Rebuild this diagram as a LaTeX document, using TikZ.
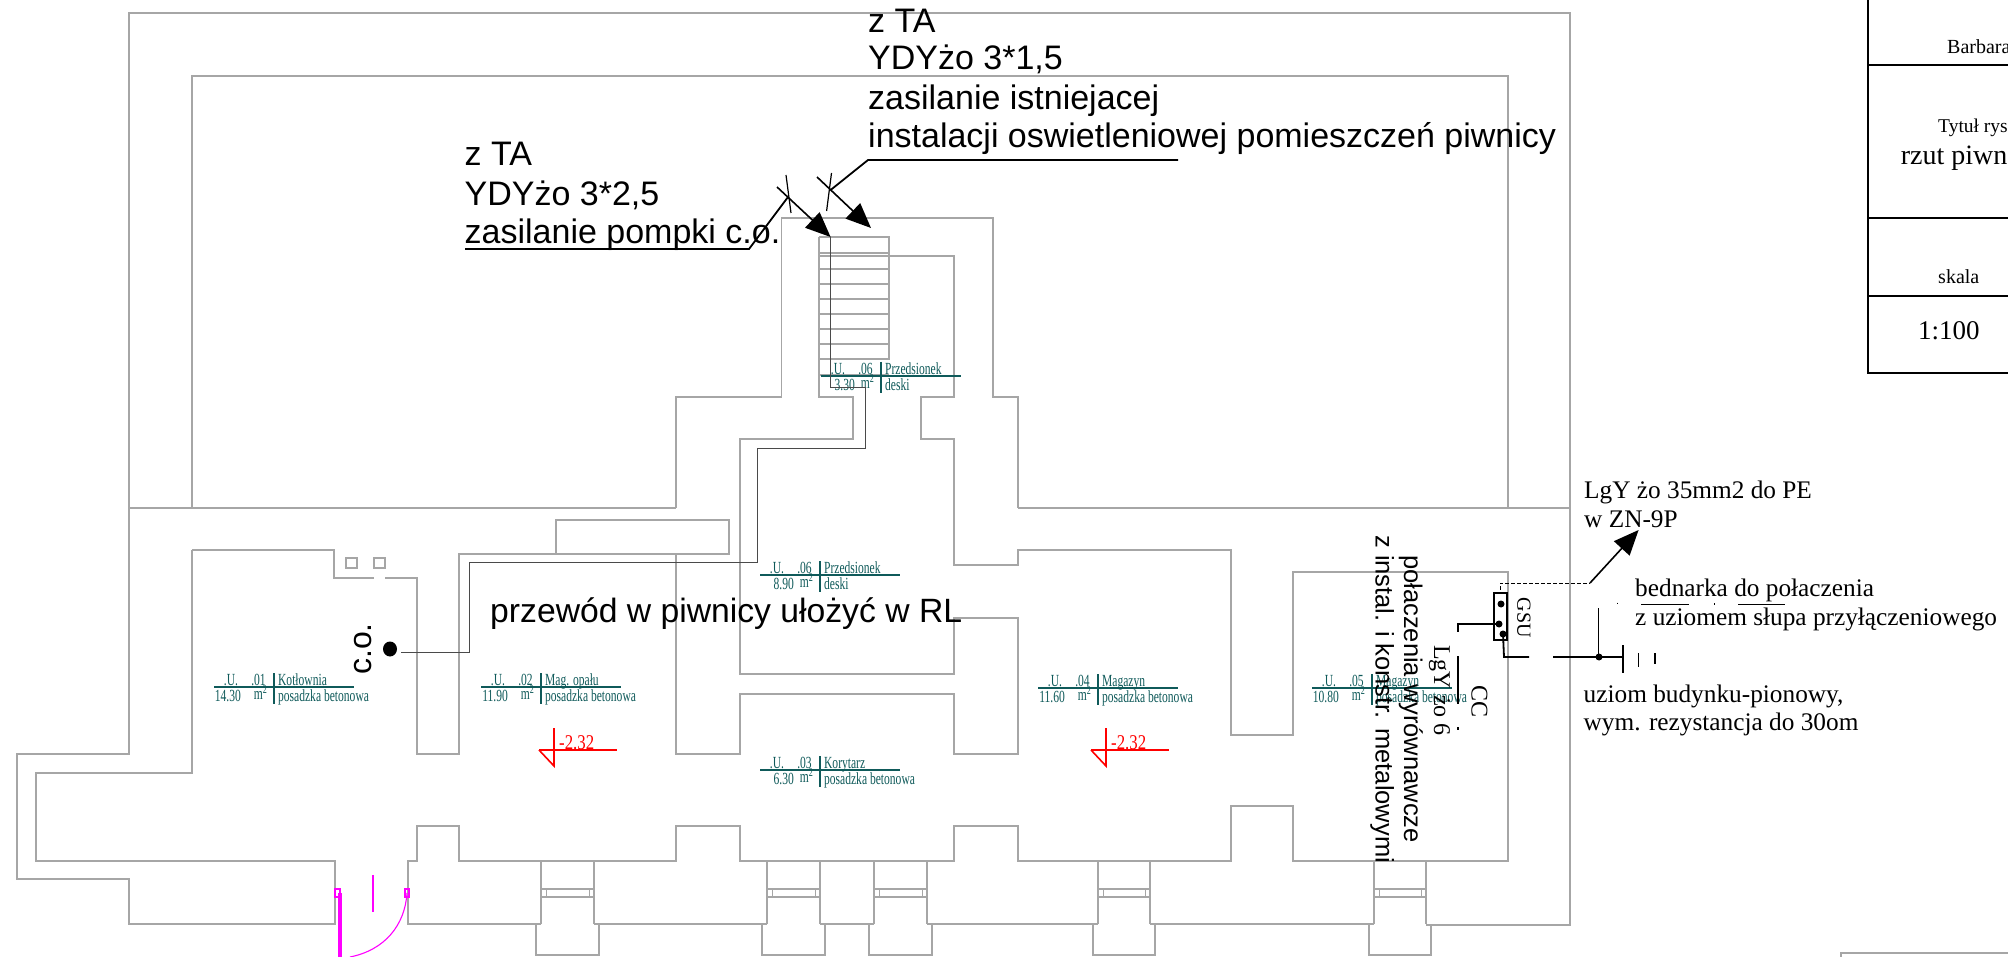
\documentclass[tikz,border=0pt]{standalone}
\usepackage{fontspec}
\setmainfont{Liberation Serif}
\newfontfamily\arialf{Liberation Sans}
\usetikzlibrary{arrows.meta}
\definecolor{wallc}{HTML}{A6A6A6}
\definecolor{tealc}{HTML}{0F5A5A}
\definecolor{cablec}{HTML}{4A4A4A}
\definecolor{doorc}{HTML}{FF00FF}
\newcommand{\px}[1]{\fontsize{#1}{#1}\selectfont}
\tikzset{
  wall/.style={draw=wallc,line width=1.6pt,line join=miter},
  cable/.style={draw=cablec,line width=1pt},
  wire/.style={draw=black,line width=1.8pt},
  frame/.style={draw=black,line width=1.6pt},
  bighead/.style={-{Triangle[length=25pt,width=21pt]},draw=black,line width=1.6pt},
  roomtxt/.style={text=tealc,font=\px{17},inner sep=0pt,transform shape,xscale=.68},
  arialtxt/.style={font=\arialf\px{34},inner sep=0pt,anchor=base west},
  serifnote/.style={font=\px{25.3},inner sep=0pt,anchor=base west},
  titletxt/.style={inner sep=0pt,anchor=base west},
  elev/.style={text=red,font=\px{21},inner sep=0pt,anchor=base west,transform shape,xscale=.8},
  elevline/.style={draw=red,line width=1.6pt},
}
% #1 name, #2 x of divider, #3 y of rule, #4 number, #5 room, #6 area, #7 x offset of area right end, #8 finish
\newcommand{\roomlabel}[8]{%
  \draw[draw=tealc,line width=1.5pt] (#2-60,#3) -- (#2+79.5,#3);
  \draw[draw=tealc,line width=1.5pt] (#2,#3-14) -- (#2,#3+17);
  \node[roomtxt,anchor=base] (#1u) at (#2-43,#3-1.5) {.U.};
  \node[roomtxt,anchor=base] (#1n) at (#2-15.5,#3-1.5) {#4};
  \node[roomtxt,anchor=base west] (#1r) at (#2+4,#3-1.5) {#5};
  \node[roomtxt,anchor=base east] (#1a) at (#2+#7,#3+14.5) {#6};
  \node[roomtxt,anchor=base] (#1m) at (#2-13.5,#3+12.5) {m\textsuperscript{2}};
  \node[roomtxt,anchor=base west] (#1f) at (#2+4,#3+14.5) {#8};
}
% #1 name, #2 x of left end
\newcommand{\levelmark}[2]{%
  \draw[elevline] (#2,750) -- (#2+78,750);
  \draw[elevline] (#2,750) -- (#2+15,766) -- (#2+15,728);
  \node[elev] (#1) at (#2+20,749) {-2.32};
}
% #1 left x, #2 right x
\newcommand{\basewindow}[2]{%
  \draw[wall] (#1,861) -- (#1,924);
  \draw[wall] (#2,861) -- (#2,924);
  \draw[wall] (#1,889) -- (#2,889);
  \draw[wall] (#1,897) -- (#2,897);
  \draw[wall,line width=1pt] (#1+5,889) -- (#1+5,897);
  \draw[wall,line width=1pt] (#2-5,889) -- (#2-5,897);
  \draw[wall] (#1-5,924) -- (#1-5,955) -- (#2+5,955) -- (#2+5,924);
}
\begin{document}
\begin{tikzpicture}[x=1pt,y=-1pt]
\useasboundingbox (0,0) rectangle (2008,957);
\clip (0,0) rectangle (2008,957);
\fill[white] (0,0) rectangle (2008,957);

% --- outer walls
\draw[wall] (1018,508) -- (1570,508);
\draw[wall] (129,508) -- (676,508);
\draw[wall] (1570,508) -- (1570,13) -- (129,13) -- (129,754) -- (17,754) -- (17,879) -- (129,879) -- (129,924) -- (335,924) -- (335,861) -- (36,861) -- (36,773) -- (192,773) -- (192,550);
\draw[wall] (192,508) -- (192,76) -- (1508,76) -- (1508,508);
\draw[wall] (1570,508) -- (1570,925) -- (1426,925);
\draw[wall] (1374,924) -- (1150,924);
\draw[wall] (1098,924) -- (927,924);
\draw[wall] (874,924) -- (820,924);
\draw[wall] (767,924) -- (594,924);
\draw[wall] (541,924) -- (408,924) -- (408,861) -- (417,861) -- (417,826) -- (459,826) -- (459,861) -- (676,861) -- (676,826) -- (740,826) -- (740,861) -- (954,861) -- (954,826) -- (1018,826) -- (1018,861) -- (1231,861) -- (1231,806) -- (1293,806) -- (1293,861) -- (1508,861) -- (1508,572) -- (1293,572) -- (1293,735) -- (1231,735) -- (1231,550) -- (1018,550) -- (1018,565) -- (954,565) -- (954,439) -- (921,439) -- (921,397) -- (954,397) -- (954,256) -- (819,256);
% stair shaft
\draw[wall] (676,508) -- (676,397) -- (781.5,397) -- (781.5,218) -- (993,218) -- (993,397) -- (1018,397) -- (1018,508);
\draw[wall] (819,237) -- (819,397) -- (853,397) -- (853,439) -- (740,439) -- (740,674) -- (954,674) -- (954,618) -- (1018,618) -- (1018,754) -- (954,754) -- (954,694) -- (740,694) -- (740,754) -- (676,754) -- (676,554);
% stairs
\draw[wall] (819,237) -- (889,237) -- (889,360);
\foreach \sy in {253,269,284,299,314,329,344,359,375}{\draw[wall] (819,\sy) -- (889,\sy);}
% boiler room
\draw[wall] (192,550) -- (334,550) -- (334,578) -- (374,578);
\draw[wall] (385,578) -- (417,578) -- (417,754) -- (459,754) -- (459,554) -- (729,554) -- (729,520) -- (556,520) -- (556,554);
\draw[wall,line width=1.3pt] (346,558) rectangle (357,568);
\draw[wall,line width=1.3pt] (374,558) rectangle (385,568);
% windows
\basewindow{541}{594}
\basewindow{767}{820}
\basewindow{874}{927}
\basewindow{1098}{1150}
\basewindow{1374}{1426}

% --- door
\draw[draw=doorc,line width=3.5pt] (340,893) -- (340,957);
\draw[draw=doorc,line width=1.5pt] (373,875) -- (373,912);
\draw[draw=doorc,line width=1.3pt] (335,889) rectangle (340,897);
\draw[draw=doorc,line width=1.3pt] (405,889) rectangle (409,897);
\draw[draw=doorc,line width=1.1pt] (407,893) .. controls (405,925) and (385,950) .. (350,957);

% --- room labels
\roomlabel{ra}{274}{687}{.01}{Kotłownia}{14.30}{-33}{posadzka betonowa}
\roomlabel{rb}{541}{687}{.02}{Mag. opału}{11.90}{-33}{posadzka betonowa}
\roomlabel{rc}{820}{575}{.06}{Przedsionek}{8.90}{-26}{deski}
\roomlabel{rd}{1098}{688}{.04}{Magazyn}{11.60}{-33}{posadzka betonowa}
\roomlabel{re}{820}{770}{.03}{Korytarz}{6.30}{-26}{posadzka betonowa}
\roomlabel{rf}{1372}{688}{.05}{Magazyn}{10.80}{-33}{posadzka betonowa}
\roomlabel{rg}{881}{376}{.06}{Przedsionek}{3.30}{-26}{deski}

\levelmark{la}{539}
\levelmark{lb}{1091}

% --- heating pump cable
\fill (390,649) ellipse (7pt and 7.5pt);
\coordinate (pump) at (401,652);
\coordinate (entry) at (830.6,237);
\draw[cable] (entry) -- (830.6,388) -- (865.5,388) -- (865.5,448) -- (757,448) -- (757,562) -- (469,562) -- (469,652) -- (pump);
\node[font=\arialf\px{32},rotate=90,inner sep=0pt,anchor=base west] (co) at (371,675) {c.o.};

% --- notes
\node[arialtxt] (ta1) at (868,33) {z TA};
\node[arialtxt] (ta2) at (868,70) {YDYżo 3*1,5};
\node[arialtxt] (ta3) at (868,110) {zasilanie istniejacej};
\node[arialtxt] (ta4) at (868,148) {instalacji oswietleniowej pomieszczeń piwnicy};
\node[arialtxt] (tb1) at (464.5,166) {z TA};
\node[arialtxt] (tb2) at (464.5,206) {YDYżo 3*2,5};
\node[arialtxt] (tb3) at (464.5,244) {zasilanie pompki c.o.};
\node[arialtxt,font=\arialf\px{33.7}] (rl) at (490,622) {przewód w piwnicy ułożyć w RL};

% --- leaders
\draw[black,line width=1.8pt] (465,249) -- (749,249) -- (788,197);
\draw[bighead] (777,187) -- (entry);
\draw[black,line width=1.2pt] (786,175) -- (791,213);
\draw[black,line width=1.8pt] (1178,160) -- (868,160) -- (830.6,190);
\draw[bighead] (817,177) -- (871,228);
\draw[black,line width=1.2pt] (831.5,173) -- (826.6,211);

% --- earthing
\draw[frame] (1494,593) rectangle (1507,640);
\fill (1501,604) circle (3.5pt);
\fill (1499,624) circle (3.5pt);
\fill (1503,634) circle (3.5pt);
\node[font=\px{20},rotate=-90,inner sep=0pt] (gsu) at (1524,618) {GSU};
\draw[wire] (1499,624) -- (1458,624) -- (1458,632);
\draw[wire] (1458,656) -- (1458,704);
\draw[wire] (1458,727) -- (1458,730);
\draw[wire] (1503,634) -- (1504,657) -- (1529,657);
\draw[wire] (1553,657) -- (1623,657);
\draw[black,line width=1.8pt] (1623,645) -- (1623,673);
\draw[black,line width=1.5pt] (1638.6,653) -- (1638.6,667);
\draw[black,line width=1.5pt] (1655,653) -- (1655,664);
\fill (1599,657) circle (3.5pt);
\draw[black,line width=1pt] (1598.5,608) -- (1598.5,657);
\draw[black,line width=1pt] (1641,604) -- (1689,604);
\draw[black,line width=1pt] (1738,604) -- (1785,604);
\draw[black,line width=1pt] (1617,602.5) -- (1617,604);
\draw[black,line width=1pt] (1714,603) -- (1714,604.5);
\draw[black,line width=1pt,dashed,dash pattern=on 4pt off 2pt] (1500,590) -- (1500,583) -- (1590,583);
\draw[bighead] (1590,583) -- (1638.6,530);

\node[serifnote] (n1) at (1584,498) {LgY żo 35mm2 do PE};
\node[serifnote] (n2) at (1584,527) {w ZN-9P};
\node[serifnote] (n3) at (1635,596) {bednarka do połaczenia};
\node[serifnote] (n4) at (1635,625) {z uziomem słupa przyłączeniowego};
\node[serifnote] (n5) at (1583.5,702) {uziom budynku-pionowy,};
\node[serifnote] (n6) at (1583.5,730) {wym. rezystancja do 30om};

\node[serifnote,font=\px{24},rotate=-90] (v1) at (1471.5,685) {CC};
\node[serifnote,font=\px{24},rotate=-90] (v2) at (1434,645) {LgY żo 6};
\node[arialtxt,font=\arialf\px{25.5},rotate=-90] (v3) at (1404,555) {połaczenia wyrównawcze};
\node[arialtxt,font=\arialf\px{25.5},rotate=-90] (v4) at (1375.5,535) {z instal. i konstr. metalowymi};

% --- title block
\draw[frame] (1868,0) -- (1868,373) -- (2010,373);
\draw[frame] (1868,65) -- (2010,65);
\draw[frame] (1868,218) -- (2010,218);
\draw[frame] (1868,296) -- (2010,296);
\node[titletxt,font=\px{20}] (t1) at (1947,54) {Barbara};
\node[titletxt,font=\px{19.5}] (t2) at (1938,133) {Tytuł rys};
\node[titletxt,font=\px{28}] (t3) at (1900.7,165) {rzut piwn};
\node[titletxt,font=\px{20}] (t4) at (1938,284) {skala};
\node[titletxt,font=\px{27}] (t5) at (1918,340) {1:100};
\draw[draw=wallc,line width=1.6pt] (1841,957) -- (1841,953) -- (2010,953);
\end{tikzpicture}
\end{document}
